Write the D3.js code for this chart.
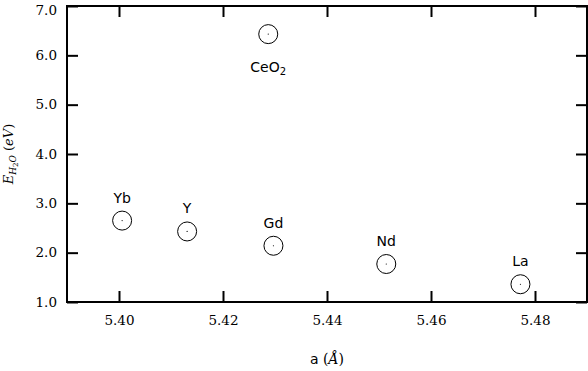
<!DOCTYPE html>
<html>
<head>
<meta charset="utf-8">
<script src="https://cdn.jsdelivr.net/npm/d3@7"></script>
<style>
  body { margin: 0; background: #fff; }
  .lbl { font-family: "DejaVu Sans", sans-serif; font-size: 14px; }
</style>
</head>
<body>
<script>
var names = ['Yb', 'Y', 'Gd', 'Nd', 'La', 'CeO2'];
var lattice = [5.4006, 5.4131, 5.4297, 5.4514, 5.4772, 5.4287];
var energy = [2.65, 2.43, 2.14, 1.77, 1.36, 6.43];
var xTicks = [5.40, 5.42, 5.44, 5.46, 5.48];
var yTicks = [1.0, 2.0, 3.0, 4.0, 5.0, 6.0, 7.0];

var margin = { top: 6, right: 1, bottom: 69, left: 67 };
var width = 588 - margin.left - margin.right;
var height = 371 - margin.top - margin.bottom;

var x = d3.scaleLinear().domain([5.39, 5.49]).range([0, width]);
var y = d3.scaleLinear().domain([1, 7]).range([height, 0]);

var svg = d3.select('body').append('svg')
    .attr('width', 588)
    .attr('height', 371)
  .append('g')
    .attr('transform', 'translate(' + margin.left + ',' + margin.top + ')');

function styleAxis(g) {
  g.attr('font-family', null).attr('font-size', null);
  g.select('.domain').remove();
  g.selectAll('.tick line').attr('stroke', '#000').attr('stroke-width', 2);
  g.selectAll('.tick text')
      .attr('fill', '#000')
      .style('font-family', '"DejaVu Serif", serif')
      .style('font-size', '13.5px');
}

// bottom + top axes, ticks pointing inward
svg.append('g')
    .attr('transform', 'translate(0,' + height + ')')
    .call(d3.axisBottom(x).tickValues(xTicks).tickFormat(d3.format('.2f')).tickSizeInner(-11).tickSizeOuter(0).tickPadding(13))
    .call(styleAxis);
svg.append('g')
    .call(d3.axisTop(x).tickValues(xTicks).tickSizeInner(-11).tickSizeOuter(0).tickFormat(''))
    .call(styleAxis);
svg.append('g')
    .call(d3.axisLeft(y).tickValues(yTicks).tickFormat(d3.format('.1f')).tickSizeInner(-11).tickSizeOuter(0).tickPadding(10))
    .call(styleAxis)
    .selectAll('.tick text')
    .filter(function(d) { return d === 7; })
    .attr('dy', '0.6em');
svg.append('g')
    .attr('transform', 'translate(' + width + ',0)')
    .call(d3.axisRight(y).tickValues(yTicks).tickSizeInner(-11).tickSizeOuter(0).tickFormat(''))
    .call(styleAxis);

svg.append('rect')
    .attr('width', width)
    .attr('height', height)
    .attr('fill', 'none')
    .attr('stroke', '#000')
    .attr('stroke-width', 2);

var data = names.map(function(n, i) { return { name: n, a: lattice[i], e: energy[i] }; });

var pt = svg.selectAll('.pt')
    .data(data)
  .enter().append('g')
    .attr('class', 'pt')
    .attr('transform', function(d) { return 'translate(' + x(d.a) + ',' + y(d.e) + ')'; });
pt.append('circle')
    .attr('r', 9.5)
    .attr('fill', 'none')
    .attr('stroke', '#000')
    .attr('stroke-width', 1);
pt.append('circle')
    .attr('r', 0.6)
    .attr('fill', '#000');

var lab = pt.append('text')
    .attr('class', 'lbl')
    .attr('text-anchor', 'middle')
    .attr('y', function(d) { return d.name === 'CeO2' ? 38 : -18; });
lab.each(function(d) {
  var t = d3.select(this);
  if (d.name === 'CeO2') {
    t.append('tspan').text('CeO');
    t.append('tspan').attr('dy', 3).attr('font-size', '10px').text('2');
  } else {
    t.text(d.name);
  }
});

// axis titles
var xl = svg.append('text')
    .attr('x', width / 2)
    .attr('y', height + 62)
    .attr('text-anchor', 'middle')
    .style('font-size', '15px');
xl.append('tspan').style('font-family', '"DejaVu Sans", sans-serif').style('font-size', '14px').text('a ');
xl.append('tspan').style('font-family', '"DejaVu Serif", serif').style('font-size', '14px').text('(');
xl.append('tspan').style('font-family', '"DejaVu Serif", serif').style('font-size', '14px').style('font-style', 'italic').text('Å');
xl.append('tspan').style('font-family', '"DejaVu Serif", serif').style('font-size', '14px').text(')');

var yl = svg.append('text')
    .attr('transform', 'translate(' + (-54) + ',' + (height / 2) + ') rotate(-90)')
    .attr('text-anchor', 'middle')
    .style('font-family', '"DejaVu Serif", serif')
    .style('font-size', '13px');
yl.append('tspan').style('font-style', 'italic').text('E');
yl.append('tspan').style('font-style', 'italic').style('font-size', '9px').attr('dy', 3).text('H');
yl.append('tspan').style('font-size', '7px').attr('dy', 2).text('2');
yl.append('tspan').style('font-style', 'italic').style('font-size', '9px').attr('dy', -2).text('O');
yl.append('tspan').attr('dy', -3).text(' (');
yl.append('tspan').style('font-style', 'italic').text('eV');
yl.append('tspan').text(')');
</script>
</body>
</html>
